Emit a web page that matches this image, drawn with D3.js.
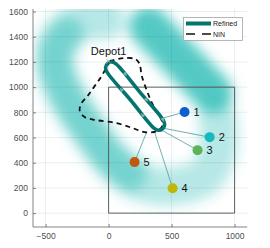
<!DOCTYPE html>
<html><head><meta charset="utf-8">
<script src="https://cdn.jsdelivr.net/npm/d3@7"></script>
<style>body{margin:0;background:#fff;}svg{display:block;font-family:"Liberation Sans",Arial,sans-serif;}</style>
</head><body><svg id="c" width="270" height="248"></svg>
<script>
// ---------- data ----------
const xTicks = [-500, 0, 500, 1000];
const yTicks = [0, 200, 400, 600, 800, 1000, 1200, 1400, 1600];
const xDomain = [-600, 1100];
const yDomain = [-110, 1620];
const depotName = "Depot1";
const depotX = 0, depotY = 1205;
const customerIds = ["1", "2", "3", "4", "5"];
const customerX = [603, 802, 706, 508, 206];
const customerY = [802, 603, 500, 198, 405];
const customerColors = ["#0b5fcf", "#16b9be", "#5cb35a", "#bfb704", "#bf5a0c"];
const spokeStartX = [429, 429, 421, 365, 302];
const spokeStartY = [754, 675, 659, 643, 643];
const regionX = [0, 1000, 1000, 0];
const regionY = [0, 0, 1000, 1000];
const refinedRoute = [[-7,1188],[28,1199],[61,1182],[248,960],[434,737],[445,702],[428,669],[393,658],[360,675],[174,898],[-13,1120],[-24,1155]];
const ninRoute = [[8,1206],[119,1230],[214,1222],[246,1183],[262,1095],[302,976],[349,865],[405,770],[429,698],[381,651],[286,643],[190,675],[63,714],[-95,738],[-190,762],[-230,817],[-214,873],[-167,929],[-111,1008],[-56,1087],[-16,1159],[8,1206]];
const haloRing = [[-20,1530],[-246,1510],[-410,1360],[-420,1151],[-315,897],[-151,655],[32,415],[246,250],[524,215],[770,300],[870,516],[865,760]];
const haloLeft = [[-330,1420],[-415,1280],[-420,1151],[-315,897],[-151,655],[32,415],[170,310]];
const haloRight = [[320,1480],[825,955]];
const legendLabels = ["Refined", "NIN"];

// ---------- setup ----------
const svg = d3.select("#c");
const L = 33, R = 247.2, T = 9, B = 227;
const x = d3.scaleLinear().domain(xDomain).range([L, R]);
const y = d3.scaleLinear().domain(yDomain).range([B, T]);
const defs = svg.append("defs");
defs.append("clipPath").attr("id","clip").append("rect")
  .attr("x", L).attr("y", T).attr("width", R - L).attr("height", B - T);
const f = defs.append("filter").attr("id","blur").attr("filterUnits","userSpaceOnUse")
  .attr("x", -50).attr("y", -50).attr("width", 400).attr("height", 400);
f.append("feGaussianBlur").attr("stdDeviation", 6.5);

const mk = (curve) => d3.line().x(d => x(d[0])).y(d => y(d[1])).curve(curve);
const plot = svg.append("g").attr("clip-path","url(#clip)");

// halo
const halo = plot.append("g").attr("filter","url(#blur)");
const haloColor = "#36bfba";
halo.append("path").attr("d", mk(d3.curveCatmullRom)(haloRing))
  .attr("fill","none").attr("stroke",haloColor).attr("stroke-width",38)
  .attr("stroke-linecap","round").attr("stroke-linejoin","round").attr("opacity",0.36);
halo.append("path").attr("d", mk(d3.curveCatmullRom)(haloLeft))
  .attr("fill","none").attr("stroke",haloColor).attr("stroke-width",34)
  .attr("stroke-linecap","round").attr("opacity",0.5);
halo.append("path").attr("d", mk(d3.curveLinear)(haloRight))
  .attr("fill","none").attr("stroke",haloColor).attr("stroke-width",40)
  .attr("stroke-linecap","round").attr("opacity",0.85);

// grid
const grid = svg.append("g");
xTicks.forEach(t => grid.append("line").attr("x1", x(t)).attr("x2", x(t)).attr("y1", T).attr("y2", B)
  .attr("stroke","#262626").attr("stroke-opacity",0.1).attr("stroke-width",0.8));
yTicks.forEach(t => grid.append("line").attr("y1", y(t)).attr("y2", y(t)).attr("x1", L).attr("x2", R)
  .attr("stroke","#262626").attr("stroke-opacity",0.1).attr("stroke-width",0.8));

// axes
const fmt = d3.format("d");
const xAxis = d3.axisBottom(x).tickValues(xTicks).tickFormat(fmt).tickSize(-3).tickPadding(6);
const yAxis = d3.axisLeft(y).tickValues(yTicks).tickFormat(fmt).tickSize(-3).tickPadding(5);
const gx = svg.append("g").attr("transform",`translate(0,${B})`).call(xAxis);
const gy = svg.append("g").attr("transform",`translate(${L},0)`).call(yAxis);
[gx, gy].forEach(g => {
  g.select(".domain").attr("stroke","#666").attr("stroke-width",0.8);
  g.selectAll(".tick line").attr("stroke","#666").attr("stroke-width",0.8);
  g.selectAll("text").attr("fill","#4d4d4d").attr("font-size","8.5px")
   .attr("font-family",'"Liberation Sans",Arial,sans-serif');
});
gx.select(".domain").attr("d", `M${L},0H${R}`);
gy.select(".domain").attr("d", `M0,${B}V${T}`);

// region rectangle
plot.append("polygon")
  .attr("points", regionX.map((v,i)=>[x(v), y(regionY[i])].join(",")).join(" "))
  .attr("fill","none").attr("stroke","#555").attr("stroke-width",0.9);

// spokes
customerX.forEach((cx,i)=>{
  plot.append("line").attr("x1", x(spokeStartX[i])).attr("y1", y(spokeStartY[i]))
    .attr("x2", x(cx)).attr("y2", y(customerY[i]))
    .attr("stroke","#4f9c9a").attr("stroke-width",0.8);
});

// NIN dashed
plot.append("path").attr("d", mk(d3.curveCatmullRom)(ninRoute))
  .attr("fill","none").attr("stroke","#111").attr("stroke-width",1.8)
  .attr("stroke-dasharray","5,4");

// refined route
const routeColor = "#04746f";
const rp = plot.append("path").attr("d", mk(d3.curveCatmullRomClosed)(refinedRoute))
  .attr("fill","none").attr("stroke",routeColor).attr("stroke-width",3.6);
const node = rp.node(), len = node.getTotalLength();
[0.1, 0.28, 0.42, 0.62, 0.8].forEach(fr=>{
  const p = node.getPointAtLength(fr*len), q = node.getPointAtLength(fr*len+1);
  const a = Math.atan2(q.y-p.y, q.x-p.x)*180/Math.PI;
  plot.append("path").attr("d","M2.5,0L-2,-2L-2,2Z")
    .attr("transform",`translate(${p.x},${p.y}) rotate(${a})`)
    .attr("fill","#8fb5b3").attr("opacity",0.9);
});

// depot
const dx = x(depotX), dy = y(depotY);
svg.append("path").attr("d",`M${dx-2.5},${dy-2.5}L${dx+2.5},${dy+2.5}M${dx-2.5},${dy+2.5}L${dx+2.5},${dy-2.5}`)
  .attr("stroke","#aaa").attr("stroke-width",0.8);
svg.append("text").attr("x", dx).attr("y", dy-6).attr("text-anchor","middle")
  .attr("font-size","11px").attr("fill","#111").text(depotName);

// customers
customerX.forEach((cx,i)=>{
  svg.append("circle").attr("cx", x(cx)).attr("cy", y(customerY[i])).attr("r",5)
    .attr("fill", customerColors[i]);
  svg.append("text").attr("x", x(cx)+9).attr("y", y(customerY[i])+4)
    .attr("font-size","11px").attr("fill","#111").text(customerIds[i]);
});

// legend
const lg = svg.append("g");
lg.append("rect").attr("x",183.5).attr("y",17.5).attr("width",59).attr("height",23)
  .attr("fill","#fff").attr("stroke","#999").attr("stroke-width",0.7);
lg.append("line").attr("x1",186).attr("x2",211).attr("y1",23.5).attr("y2",23.5)
  .attr("stroke",routeColor).attr("stroke-width",4);
lg.append("line").attr("x1",186).attr("x2",212).attr("y1",34).attr("y2",34)
  .attr("stroke","#111").attr("stroke-width",1.6).attr("stroke-dasharray","9,7");
lg.append("text").attr("x",213).attr("y",26).attr("font-size","7px").attr("fill","#222").text(legendLabels[0]);
lg.append("text").attr("x",213).attr("y",36.5).attr("font-size","7px").attr("fill","#222").text(legendLabels[1]);
</script></body></html>
